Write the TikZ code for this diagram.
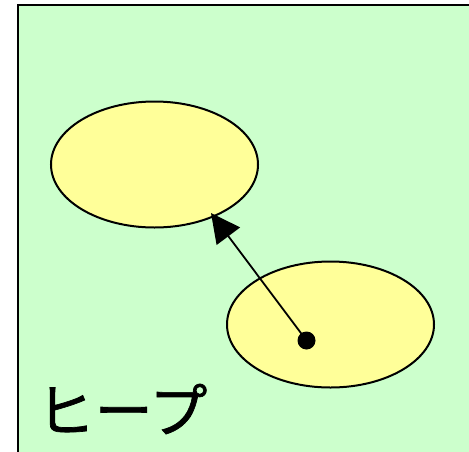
\documentclass[tikz,border=0pt]{standalone}
\usepackage{fontspec}
\newfontfamily\jpfont[FakeBold=1.2]{Noto Sans CJK JP}
\usetikzlibrary{shapes.geometric,arrows.meta}
\definecolor{heapgreen}{HTML}{CCFFCC}
\definecolor{objyellow}{HTML}{FFFF99}
\tikzset{
  obj/.style={ellipse,draw=black,line width=2pt,fill=objyellow,
    minimum width=207pt,minimum height=126pt,inner sep=0pt},
  ref/.style={line width=1.8pt,-{Triangle[length=29pt,width=29pt]}}
}

\begin{document}
\begin{tikzpicture}[x=1pt,y=-1pt]
\useasboundingbox (0,0) rectangle (469,451);
\clip (0,0) rectangle (469,451);
% heap area
\draw[fill=heapgreen,line width=2.4pt] (18,5) rectangle (490,470);
% objects
\node[obj] (objA) at (154.5,164.5) {};
\node[obj] (objB) at (330.5,324.5) {};
\fill (306.5,340.5) circle (9pt);
\coordinate (dot) at (306.5,340.5);
\coordinate (tip) at (211,213);
\draw[ref] (dot) -- (tip);
% label
\node[font=\jpfont\fontsize{58}{64}\selectfont,inner sep=0pt] (heap) at (122,409) {ヒープ};
\end{tikzpicture}
\end{document}
